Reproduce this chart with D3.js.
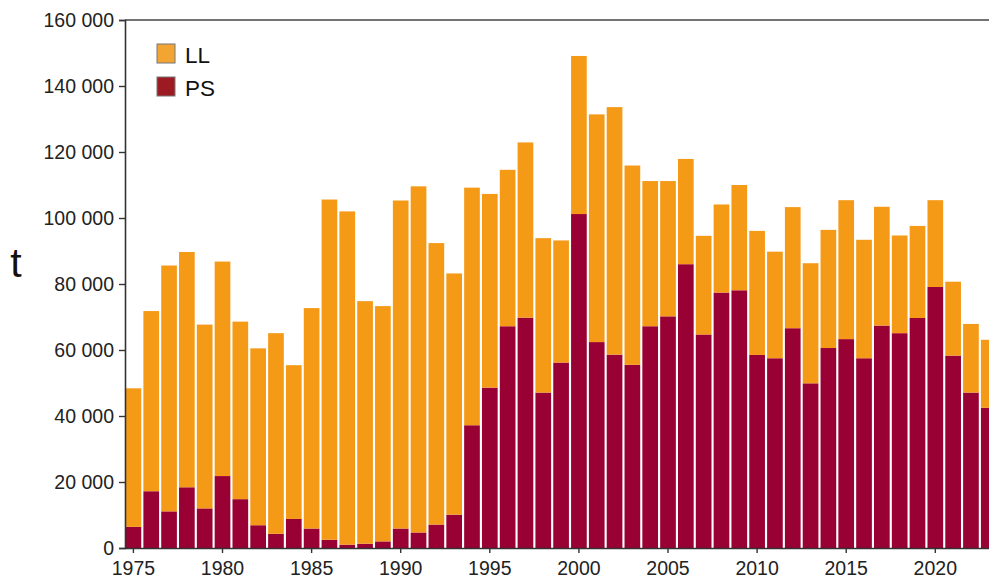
<!DOCTYPE html>
<html>
<head>
<meta charset="utf-8">
<script src="https://cdn.jsdelivr.net/npm/d3@7"></script>
<style>
  html, body { margin: 0; padding: 0; background: #fff; }
  svg { display: block; font-family: "Liberation Sans", Arial, sans-serif; }
</style>
</head>
<body>
<svg id="chart" width="989" height="578"></svg>
<script>
const years = d3.range(1975, 2024);
const psValues = [6.4, 17.2, 11.1, 18.4, 12.0, 21.8, 14.8, 6.9, 4.3, 8.8,
  5.9, 2.5, 1.0, 1.3, 2.0, 5.9, 4.7, 7.1, 10.1, 37.2,
  48.6, 67.2, 69.8, 47.1, 56.2, 101.2, 62.4, 58.6, 55.5, 67.2,
  70.2, 86.0, 64.7, 77.4, 78.1, 58.5, 57.5, 66.6, 49.9, 60.6,
  63.3, 57.5, 67.4, 65.1, 69.7, 79.1, 58.3, 47.1, 42.5].map(v => v * 1000);
const totalValues = [48.4, 71.8, 85.6, 89.7, 67.7, 86.8, 68.6, 60.5, 65.1, 55.4,
  72.7, 105.6, 102.0, 74.8, 73.3, 105.3, 109.6, 92.4, 83.2, 109.2,
  107.3, 114.6, 122.9, 93.9, 93.2, 149.1, 131.4, 133.6, 115.9, 111.2,
  111.2, 117.9, 94.6, 104.1, 110.0, 96.1, 89.8, 103.3, 86.3, 96.4,
  105.4, 93.4, 103.4, 94.7, 97.6, 105.4, 80.7, 67.9, 63.1].map(v => v * 1000);
const llValues = totalValues.map((t, i) => Math.round(t - psValues[i]));
const seriesNames = ["PS", "LL"];
const legendNames = ["LL", "PS"];
const yTicks = [0, 20000, 40000, 60000, 80000, 100000, 120000, 140000, 160000];
const xTickYears = [1975, 1980, 1985, 1990, 1995, 2000, 2005, 2010, 2015, 2020];

const barColors = { PS: "#990033", LL: "#F59A17" };
const legendColors = { LL: "#F2A533", PS: "#9E1A22" };

(function () {
const svg = d3.select("#chart");
const W = 989;
const mLeft = 125, mTop = 20, mBottom = 548;
const step = 17.82;

const rows = years.map((yr, i) => ({ year: yr, PS: psValues[i], LL: llValues[i] }));
const stacked = d3.stack().keys(seriesNames)(rows);

const x = d3.scaleBand()
  .domain(years)
  .range([mLeft - 0.5, mLeft - 0.5 + years.length * step])
  .paddingInner(0.12)
  .paddingOuter(0.06);

const y = d3.scaleLinear().domain([0, 160000]).range([mBottom, mTop]);

const locale = d3.formatLocale({ decimal: ".", thousands: "\u00a0", grouping: [3], currency: ["", ""] });
const fmt = locale.format(",");

svg.append("g")
  .selectAll("g")
  .data(stacked)
  .join("g")
  .attr("fill", d => barColors[d.key])
  .selectAll("rect")
  .data(d => d)
  .join("rect")
  .attr("x", d => x(d.data.year))
  .attr("width", x.bandwidth())
  .attr("y", d => y(d[1]))
  .attr("height", d => y(d[0]) - y(d[1]));

svg.append("line")
  .attr("x1", mLeft).attr("x2", W + 5)
  .attr("y1", mTop).attr("y2", mTop)
  .attr("stroke", "#444").attr("stroke-width", 1.6);

const yAxis = svg.append("g")
  .attr("transform", `translate(${mLeft},0)`)
  .call(d3.axisLeft(y).tickValues(yTicks).tickFormat(fmt).tickSize(6).tickPadding(5));
yAxis.select(".domain").attr("stroke", "#333").attr("stroke-width", 1.6);
yAxis.selectAll(".tick line").attr("stroke", "#333").attr("stroke-width", 1.4);
yAxis.selectAll(".tick text").attr("font-size", 19.5).attr("fill", "#222")
  .attr("font-family", "Liberation Sans, Arial, sans-serif");

const xAxis = svg.append("g")
  .attr("transform", `translate(0,${mBottom})`)
  .call(d3.axisBottom(x).tickValues(xTickYears).tickSize(5).tickPadding(8).tickSizeOuter(0));
xAxis.select(".domain").attr("stroke", "#333").attr("stroke-width", 1.6)
  .attr("d", `M${mLeft},0.5H${W + 5}`);
xAxis.selectAll(".tick line").attr("stroke", "#333").attr("stroke-width", 1.4);
xAxis.selectAll(".tick text").attr("font-size", 19.5).attr("fill", "#222")
  .attr("font-family", "Liberation Sans, Arial, sans-serif");

svg.append("text")
  .attr("x", 16).attr("y", 277)
  .attr("text-anchor", "middle")
  .attr("font-size", 41)
  .attr("fill", "#111")
  .text("t");

const lg = svg.append("g").attr("transform", "translate(157,44)");
legendNames.forEach((name, i) => {
  const g = lg.append("g").attr("transform", `translate(0,${i * 33})`);
  g.append("rect").attr("x", 0).attr("y", 0).attr("width", 18).attr("height", 19)
    .attr("fill", legendColors[name]).attr("stroke", "#777").attr("stroke-width", 1);
  g.append("text").attr("x", 28).attr("y", 18.5)
    .attr("font-size", 22.5).attr("fill", "#111").text(name);
});
})();
</script>
</body>
</html>
